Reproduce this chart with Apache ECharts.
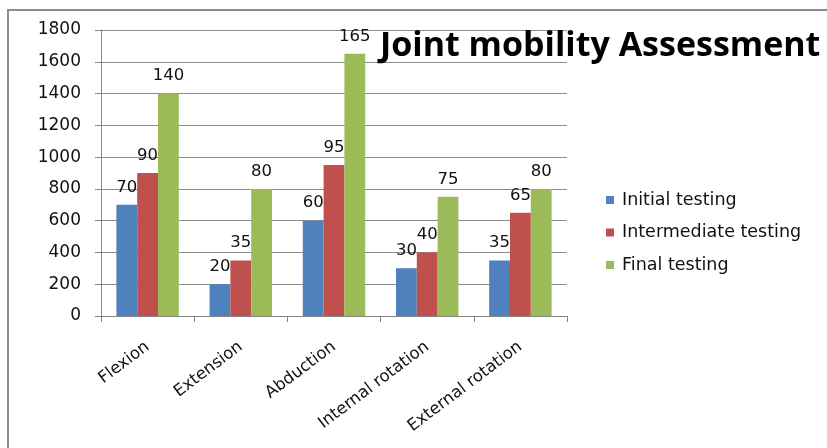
<!DOCTYPE html>
<html>
<head>
<meta charset="utf-8">
<style>
  html, body { margin: 0; padding: 0; background: #fff; }
  #chart { width: 827px; height: 448px; }
</style>
<script src="https://cdn.jsdelivr.net/npm/echarts@6/dist/echarts.min.js"></script>
</head>
<body>
<div id="chart"></div>
<script>
// Joint range of motion (degrees) per movement, three testing sessions
const categories = ['Flexion', 'Extension', 'Abduction', 'Internal rotation', 'External rotation'];
const seriesNames = ['Initial testing', 'Intermediate testing', 'Final testing'];
const initialTesting = [70, 20, 60, 30, 35];
const intermediateTesting = [90, 35, 95, 40, 65];
const finalTesting = [140, 80, 165, 75, 80];
// Value-axis tick labels, one per 20-degree step
const yTickLabels = ['0', '200', '400', '600', '800', '1000', '1200', '1400', '1600', '1800'];

const colors = ['#4F81BD', '#C0504D', '#9BBB59'];
const seriesData = [initialTesting, intermediateTesting, finalTesting];
const numFont = 'DejaVu Sans';
const textFont = 'DejaVu Sans';
const titleFont = 'Open Sans';

const chart = echarts.init(document.getElementById('chart'));
chart.setOption({
  animation: false,
  backgroundColor: '#ffffff',
  title: {
    text: 'Joint mobility Assessment',
    left: 375,
    top: 24,
    textStyle: { fontFamily: titleFont, fontWeight: 'bold', fontSize: 34, color: '#000' }
  },
  legend: {
    orient: 'vertical',
    left: 601,
    top: 186,
    itemWidth: 8,
    itemHeight: 8,
    itemGap: 14.5,
    icon: 'rect',
    textStyle: { fontFamily: textFont, fontSize: 17.5, lineHeight: 18, color: '#111', padding: [0, 0, 0, 3] },
    data: seriesNames
  },
  graphic: [{
    type: 'rect',
    shape: { x: 8, y: 10, width: 900, height: 500 },
    style: { fill: 'none', stroke: '#8c8c8c', lineWidth: 2 },
    silent: true,
    z: -1
  }],
  grid: { left: 101, right: 260, top: 30, bottom: 132, containLabel: false },
  xAxis: {
    type: 'category',
    data: categories,
    axisLine: { lineStyle: { color: '#868686', width: 1 } },
    axisTick: { show: true, length: 6, alignWithLabel: false, lineStyle: { color: '#868686' } },
    axisLabel: {
      rotate: 37,
      margin: 29,
      fontFamily: textFont,
      fontSize: 16.5,
      color: '#111',
      interval: 0
    }
  },
  yAxis: {
    type: 'value',
    min: 0,
    max: 180,
    interval: 20,
    axisLine: { show: true, lineStyle: { color: '#868686', width: 1 } },
    axisTick: { show: true, length: 6, lineStyle: { color: '#868686' } },
    splitLine: { lineStyle: { color: '#8c8c8c', width: 1 } },
    axisLabel: {
      fontFamily: numFont,
      fontSize: 17,
      color: '#111',
      margin: 20,
      formatter: v => yTickLabels[Math.round(v / 20)]
    }
  },
  series: seriesNames.map((name, i) => ({
    name,
    type: 'bar',
    data: seriesData[i],
    barGap: '0%',
    barCategoryGap: '33%',
    itemStyle: { color: colors[i] },
    label: {
      show: true,
      position: 'top',
      distance: 9,
      fontFamily: numFont,
      fontSize: 16.5,
      color: '#111'
    }
  }))
});
</script>
</body>
</html>
